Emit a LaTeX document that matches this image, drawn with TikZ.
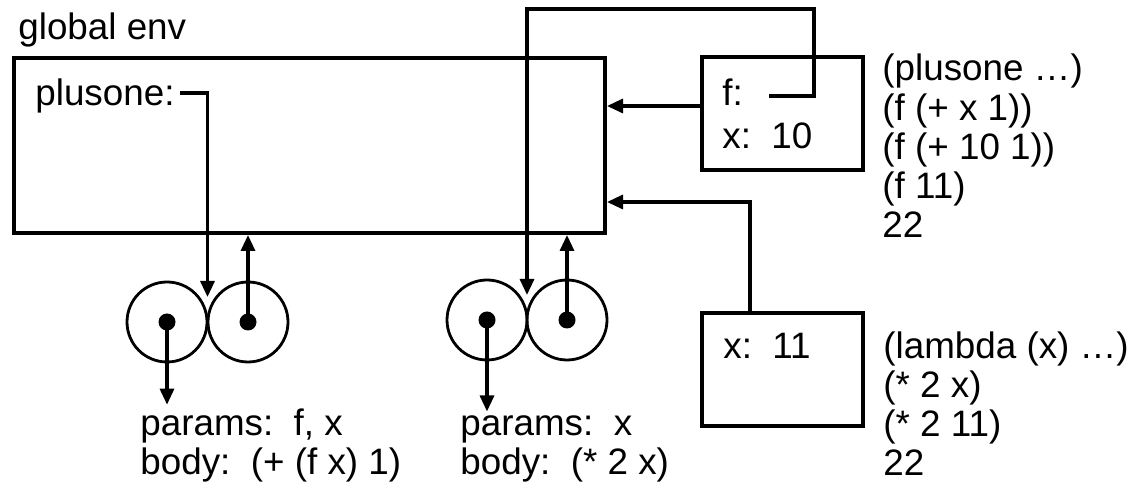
\documentclass[tikz,border=0pt]{standalone}
\usepackage{fontspec}
\setmainfont{Liberation Sans}
\usetikzlibrary{arrows.meta,calc}
\begin{document}
\begin{tikzpicture}[x=0.5pt, y=-0.5pt, >={Triangle[length=8pt,width=7pt]},
  every node/.style={font=\fontsize{18.4pt}{19.65pt}\selectfont, inner sep=0pt},
  envbox/.style={draw, line width=2pt, minimum width=80.5pt, minimum height=56.5pt},
  cell/.style={draw, circle, line width=1.4pt, minimum size=40pt},
  link/.style={line width=1.6pt},
  txt/.style={anchor=base west, align=left}]
  \useasboundingbox (0,0) rectangle (1134,490);
  \node[txt] (title) at (18,40) {global env};
  \node[envbox, minimum width=295.5pt, minimum height=87.5pt] (genv) at (309.5,145.5) {};
  \node[txt] (plusone) at (35,106) {plusone:};
  \coordinate (pslot) at (180,93);
  \node[envbox] (frame1) at (782.5,113.5) {};
  \node[txt] (fname) at (722,106) {f:};
  \node[txt] (xten) at (722,149) {x:\ \ 10};
  \coordinate (fslot) at (769,96);
  \node[envbox] (frame2) at (782.5,369.5) {};
  \node[txt] (xeleven) at (723,359) {x:\ \ 11};
  \node[txt] (trace1) at (882,238) {(plusone …)\\(f (+ x 1))\\(f (+ 10 1))\\(f 11)\\22};
  \node[txt] (trace2) at (883,476) {(lambda (x) …)\\(* 2 x)\\(* 2 11)\\22};
  \node[cell] (p1a) at (167,322) {};
  \node[cell] (p1b) at (248,322) {};
  \node[cell] (p2a) at (487,320) {};
  \node[cell] (p2b) at (567,320) {};
  \foreach \c in {p1a,p1b,p2a,p2b}
    \fill (\c.center) circle[radius=4.25pt];
  \node[txt] (prm1) at (140,475) {params:\ \ f, x\\body:\ \ (+ (f x) 1)};
  \node[txt] (prm2) at (460,475) {params:\ \ x\\body:\ \ (* 2 x)};
  \draw[link,->] (pslot) -| ($(p1a.center)!.5!(p1b.center)+(0,-25)$);
  \draw[link,->] (p1b.center) -- (p1b.center |- genv.south);
  \draw[link,->] (p1a.center) -- ([yshift=2pt]p1a.center |- prm1.north);
  \draw[link,->] (fslot) -| (814,9) -| ($(p2a.center)!.5!(p2b.center)+(0,-25)$);
  \draw[link,->] (p2b.center) -- (p2b.center |- genv.south);
  \draw[link,->] (p2a.center) -- ([yshift=2pt]p2a.center |- prm2.north);
  \draw[link,->] (frame1.west |- 0,106) -- (genv.east |- 0,106);
  \draw[link,->] (frame2.north -| 750,0) |- (genv.east |- 0,202);
\end{tikzpicture}
\end{document}
